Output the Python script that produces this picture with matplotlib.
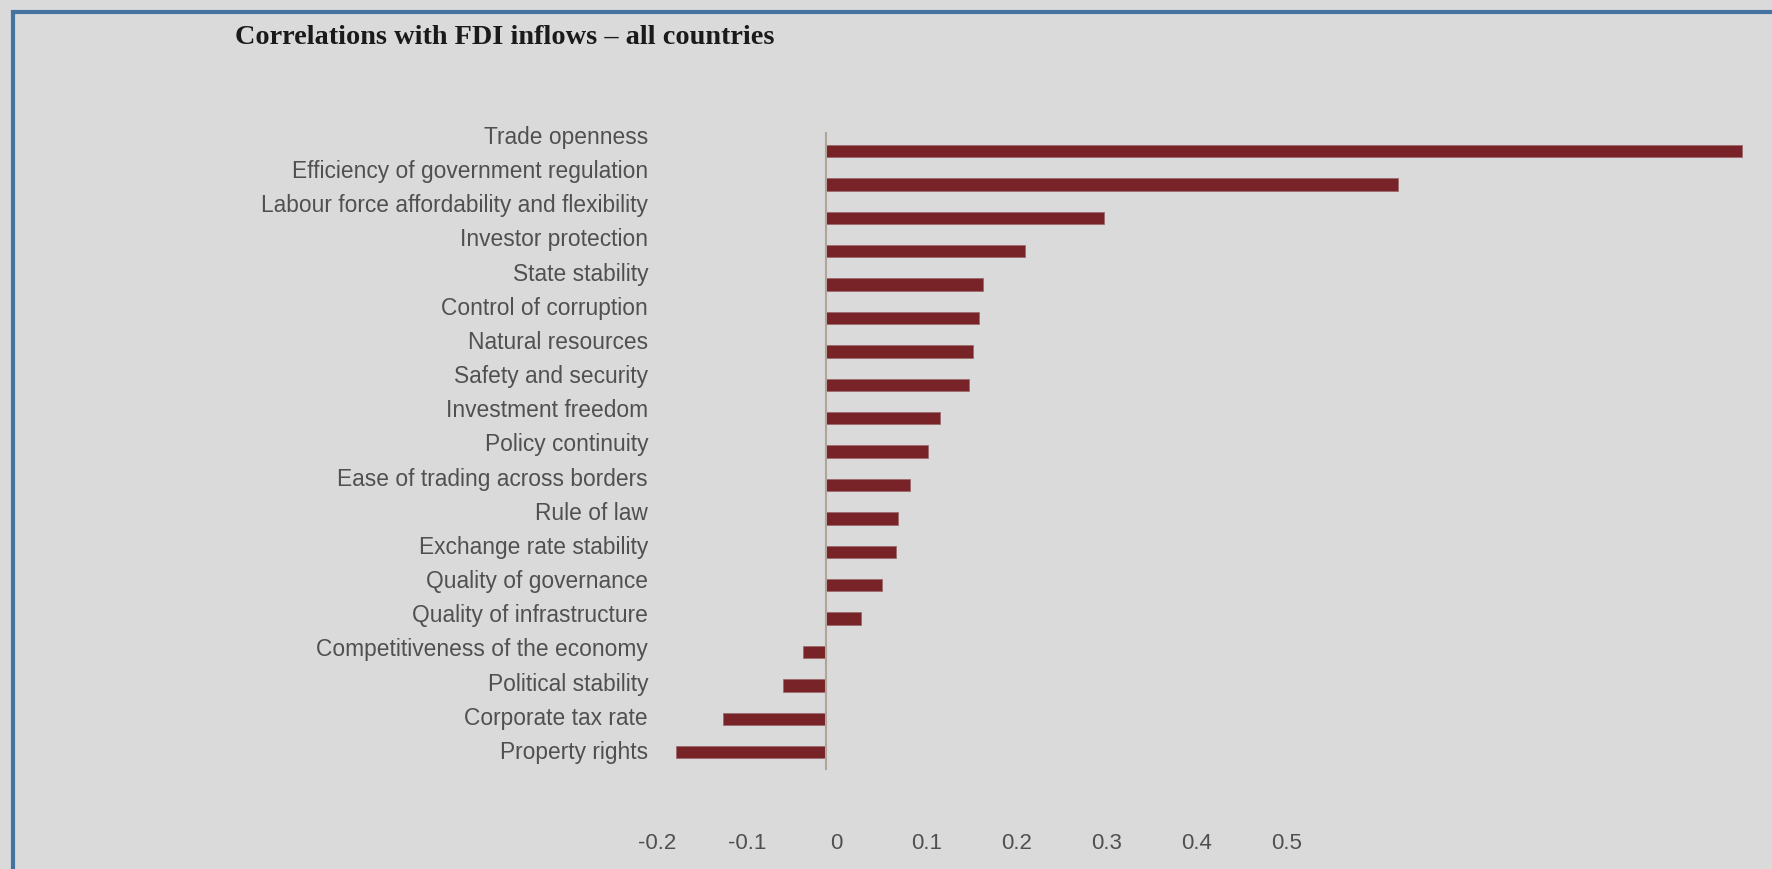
import numpy as np
import matplotlib
matplotlib.use("Agg")
import matplotlib.pyplot as plt
from matplotlib.lines import Line2D

# correlation of each factor with FDI inflows, top to bottom
factors = [
    "Trade openness",
    "Efficiency of government regulation",
    "Labour force affordability and flexibility",
    "Investor protection",
    "State stability",
    "Control of corruption",
    "Natural resources",
    "Safety and security",
    "Investment freedom",
    "Policy continuity",
    "Ease of trading across borders",
    "Rule of law",
    "Exchange rate stability",
    "Quality of governance",
    "Quality of infrastructure",
    "Competitiveness of the economy",
    "Political stability",
    "Corporate tax rate",
    "Property rights",
]
corr = [1.018, 0.636, 0.309, 0.221, 0.174, 0.170, 0.163, 0.159, 0.127, 0.113,
        0.093, 0.080, 0.078, 0.062, 0.039, -0.026, -0.048, -0.114, -0.167]
tick_vals = [-0.2, -0.1, 0, 0.1, 0.2, 0.3, 0.4, 0.5]
tick_labels = ["-0.2", "-0.1", "0", "0.1", "0.2", "0.3", "0.4", "0.5"]

W, H = 1772, 869
bg = "#dadada"
bar_col = "#782328"
txt_col = "#505050"
sans = ["Liberation Sans", "DejaVu Sans"]

fig = plt.figure(figsize=(W / 100, H / 100), dpi=100, facecolor=bg)

# axes box in pixel terms
left, right, top, bottom = 655, W, 100, 829
ax = fig.add_axes([left / W, 1 - bottom / H, (right - left) / W, (bottom - top) / H])
ax.set_facecolor("none")
for s in ax.spines.values():
    s.set_visible(False)

px_per_unit = 900.0
zero_px = 826
row_px = 33.4
first_row = 151
ax.set_xlim((left - zero_px) / px_per_unit, (right - zero_px) / px_per_unit)
ax.set_ylim((bottom - first_row) / row_px, (top - first_row) / row_px)

n = len(factors)
y = np.arange(n)
ax.barh(y, corr, height=0.37, color=bar_col, edgecolor="#9b6a6c", linewidth=0.6, zorder=2)
ax.plot([0, 0], [-0.54, 18.5], color="#b0a596", lw=1.5, zorder=3)

# category labels sit a bit above their bars
ax.set_yticks(y * 1.0228 - 0.48)
ax.set_yticklabels(factors, family=sans, fontsize=16.4, color=txt_col)
ax.set_xticks([v + 0.012 for v in tick_vals])
ax.set_xticklabels(tick_labels, family=sans, fontsize=16, color=txt_col)
ax.tick_params(axis="both", length=0)
ax.tick_params(axis="y", pad=5)
ax.tick_params(axis="x", pad=3)

fig.text(235 / W, 1 - 37 / H, "Correlations with FDI inflows \u2013 all countries",
         family="Liberation Serif", fontweight="bold", fontsize=20.3,
         color="#1a1a1a", ha="left", va="center")

# blue frame along the top and left edges
frame = "#46729f"
fig.add_artist(Line2D([11 / W, 1], [1 - 12 / H, 1 - 12 / H], color=frame, lw=3,
                      solid_capstyle="butt", transform=fig.transFigure))
fig.add_artist(Line2D([13 / W, 13 / W], [1 - 10 / H, 0], color=frame, lw=3,
                      solid_capstyle="butt", transform=fig.transFigure))

fig.savefig("out.png", dpi=100, facecolor=bg)
